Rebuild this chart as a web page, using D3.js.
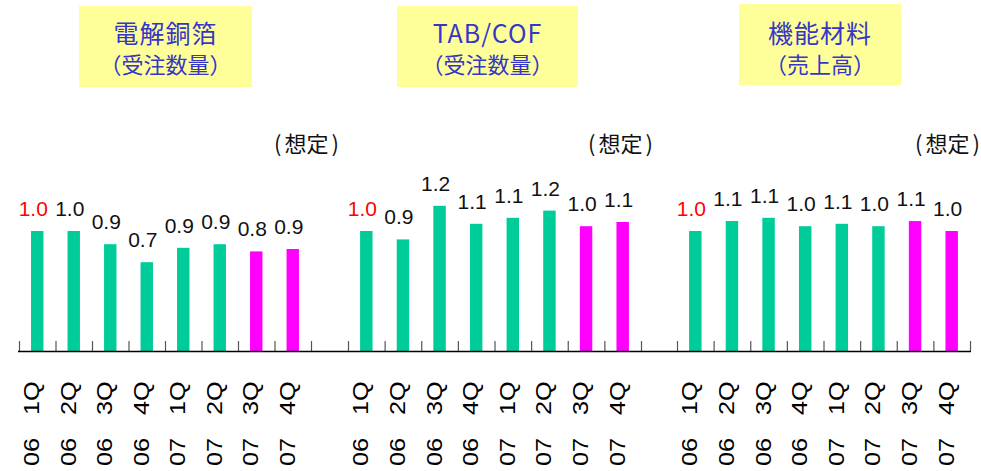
<!DOCTYPE html>
<html>
<head>
<meta charset="utf-8">
<script src="https://cdn.jsdelivr.net/npm/d3@7"></script>
<style>
  body { margin: 0; background: #fff; }
  svg { display: block; }
</style>
</head>
<body>
<svg id="chart" width="981" height="471"></svg>
<script>
// quarters and years along the bottom
const quarters = ["1Q", "2Q", "3Q", "4Q", "1Q", "2Q", "3Q", "4Q"];
const years = ["06", "06", "06", "06", "07", "07", "07", "07"];

// index 1.0 = 06 1Q, last two quarters are estimates
const foilValues = [1.0, 1.0, 0.89, 0.74, 0.86, 0.89, 0.83, 0.85];
const foilLabels = ["1.0", "1.0", "0.9", "0.7", "0.9", "0.9", "0.8", "0.9"];
const tabValues = [1.0, 0.93, 1.21, 1.06, 1.11, 1.17, 1.04, 1.075];
const tabLabels = ["1.0", "0.9", "1.2", "1.1", "1.1", "1.2", "1.0", "1.1"];
const matValues = [1.0, 1.083, 1.11, 1.04, 1.06, 1.04, 1.083, 1.0];
const matLabels = ["1.0", "1.1", "1.1", "1.0", "1.1", "1.0", "1.1", "1.0"];

const titles = [["電解銅箔", "（受注数量）"], ["TAB/COF", "（受注数量）"], ["機能材料", "（売上高）"]];
const forecastNote = "(想定)";
const forecastFrom = 6;

const panels = [
  { values: foilValues, labels: foilLabels, title: titles[0], x0: 19, x1: 311, box: [79, 6, 173, 81], noteX: 339 },
  { values: tabValues, labels: tabLabels, title: titles[1], x0: 348, x1: 641, box: [397, 6, 181, 81], noteX: 653 },
  { values: matValues, labels: matLabels, title: titles[2], x0: 677, x1: 970, box: [739, 4, 162, 81], noteX: 980 },
];

const baseY = 351;
const green = "#00cc99";
const magenta = "#ff00ff";

const svg = d3.select("#chart");

const y = d3.scaleLinear().domain([0, 1]).range([baseY, baseY - 120]);

panels.forEach((p) => {
  const g = svg.append("g");
  const idx = d3.range(p.values.length);

  const x = d3.scaleBand().domain(idx).range([p.x0, p.x1]).paddingInner(0.66).paddingOuter(0.33);
  const xTick = d3.scaleLinear().domain([0, idx.length]).range([p.x0, p.x1]);

  // header box
  const [bx, by, bw, bh] = p.box;
  g.append("rect").attr("x", bx).attr("y", by).attr("width", bw).attr("height", bh).attr("fill", "#ffff99");
  g.append("text")
    .attr("x", bx + bw / 2).attr("y", 43)
    .attr("text-anchor", "middle")
    .attr("fill", "#3636c8")
    .style("font-family", "'Noto Sans CJK JP'")
    .style("font-size", "25px")
    .style("letter-spacing", "1px")
    .text(p.title[0]);
  g.append("text")
    .attr("x", bx + bw / 2).attr("y", 73)
    .attr("text-anchor", "middle")
    .attr("fill", "#3636c8")
    .style("font-family", "'Noto Sans CJK JP'")
    .style("font-size", "22px")
    .text(p.title[1]);

  // (想定) note over the estimated quarters, split so the parens can be spaced out
  const note = g.append("text")
    .attr("y", 152)
    .attr("fill", "#111")
    .style("font-family", "'Noto Sans CJK JP'")
    .style("font-size", "22px");
  const parts = [forecastNote.slice(0, 1), forecastNote.slice(1, -1), forecastNote.slice(-1)];
  note.selectAll("tspan").data(parts).join("tspan")
    .attr("dx", (d, i) => (i === 0 ? 0 : 3))
    .text((d) => d);
  const w = note.node().getComputedTextLength();
  note.attr("x", p.noteX - w - 6);

  // ticks between quarters
  const axis = d3.axisBottom(xTick).tickValues(d3.range(idx.length + 1)).tickSizeInner(-10).tickSizeOuter(0).tickFormat("");
  const ag = g.append("g").attr("transform", `translate(0,${baseY})`).call(axis);
  ag.select(".domain").remove();
  ag.selectAll(".tick line").attr("stroke", "#555").attr("stroke-width", 1.2);

  g.selectAll("rect.bar")
    .data(p.values)
    .join("rect")
    .attr("class", "bar")
    .attr("x", (d, i) => x(i))
    .attr("y", (d) => y(d))
    .attr("width", x.bandwidth())
    .attr("height", (d) => y(0) - y(d))
    .attr("fill", (d, i) => (i >= forecastFrom ? magenta : green));

  g.selectAll("text.val")
    .data(p.values)
    .join("text")
    .attr("class", "val")
    .attr("x", (d, i) => x(i) + x.bandwidth() / 2 - 4)
    .attr("y", (d) => y(d) - 15)
    .attr("text-anchor", "middle")
    .attr("fill", (d, i) => (i === 0 ? "#ff0000" : "#111"))
    .style("font-family", "'Liberation Sans', Arial, sans-serif")
    .style("font-size", "21px")
    .text((d, i) => p.labels[i]);

  const cx = (i) => x(i) + x.bandwidth() / 2 + 2;

  g.selectAll("text.q")
    .data(quarters)
    .join("text")
    .attr("class", "q")
    .attr("transform", (d, i) => `translate(${cx(i)},415) rotate(-90) scale(1.15,1)`)
    .attr("fill", "#000")
    .style("font-family", "'Liberation Sans', Arial, sans-serif")
    .style("font-size", "22px")
    .text((d) => d);

  g.selectAll("text.yr")
    .data(years)
    .join("text")
    .attr("class", "yr")
    .attr("transform", (d, i) => `translate(${cx(i)},466) rotate(-90) scale(1.15,1)`)
    .attr("fill", "#000")
    .style("font-family", "'Liberation Sans', Arial, sans-serif")
    .style("font-size", "22px")
    .text((d) => d);
});

// one baseline across all three panels
svg.append("line")
  .attr("x1", 18).attr("x2", 971)
  .attr("y1", baseY + 0.5).attr("y2", baseY + 0.5)
  .attr("stroke", "#000")
  .attr("stroke-width", 1.5);
</script>
</body>
</html>
